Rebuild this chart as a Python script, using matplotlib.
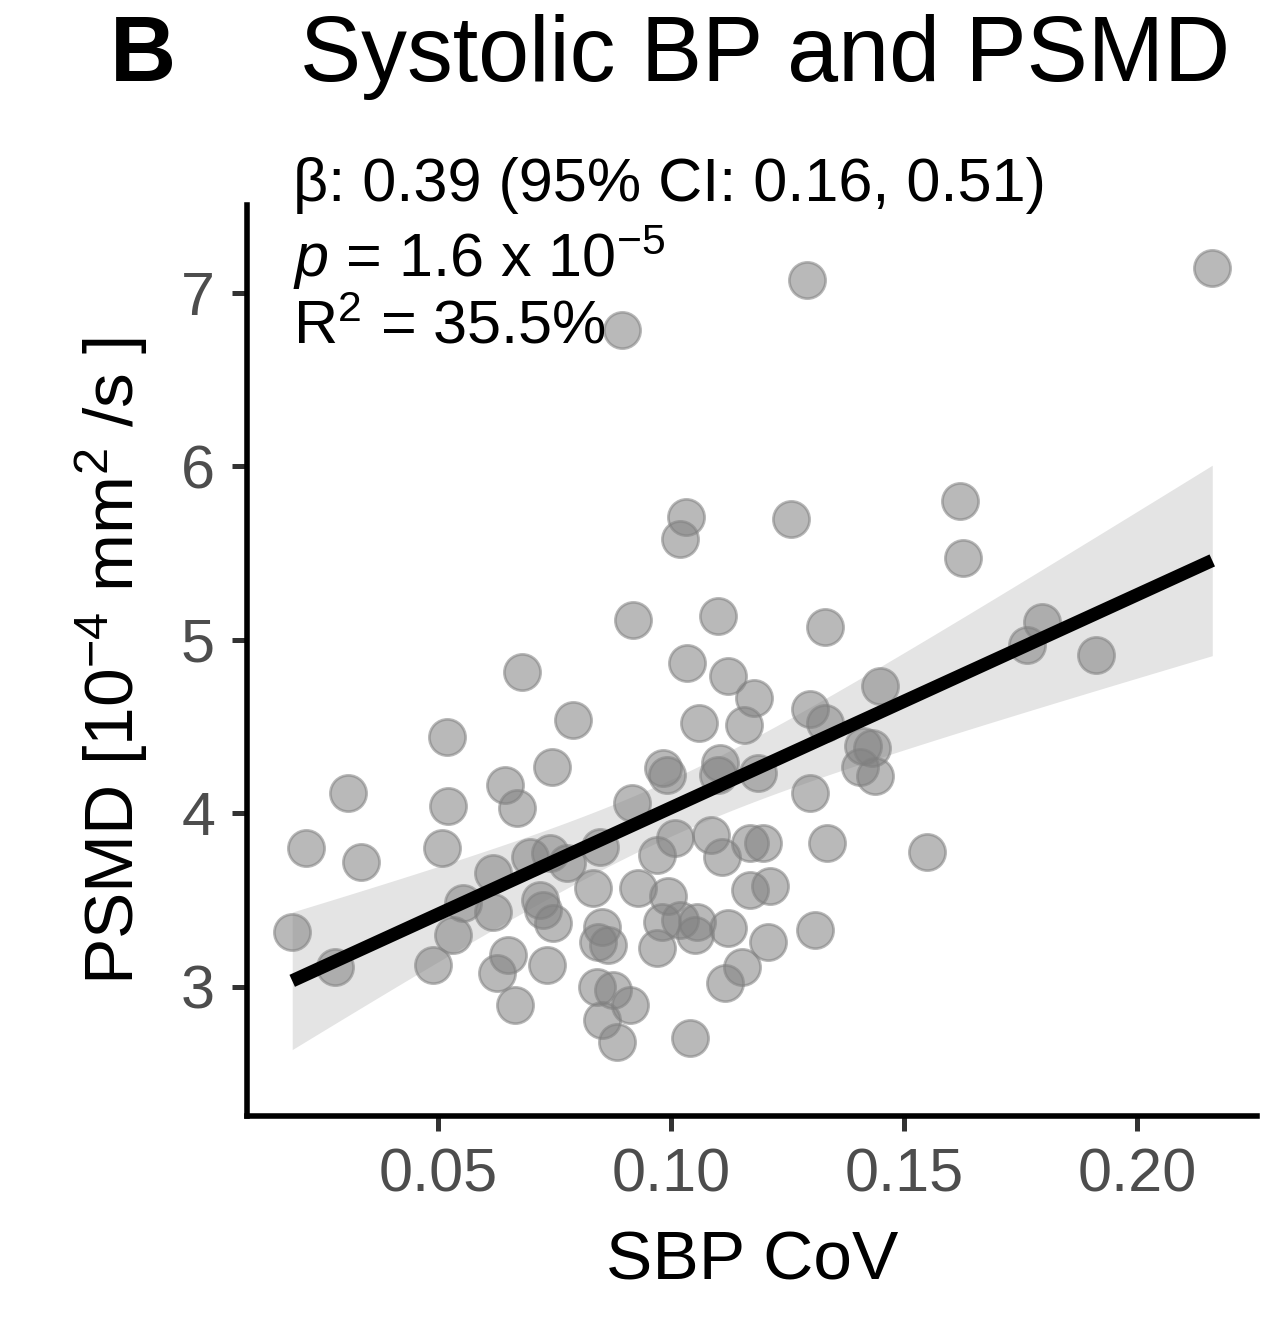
import numpy as np
import matplotlib
matplotlib.use("Agg")
import matplotlib.pyplot as plt

plt.rcParams['font.family'] = ['Liberation Sans', 'DejaVu Sans']
plt.rcParams['mathtext.fontset'] = 'custom'
plt.rcParams['mathtext.rm'] = 'Liberation Sans'
plt.rcParams['mathtext.it'] = 'Liberation Sans:italic'
plt.rcParams['mathtext.bf'] = 'Liberation Sans:bold'

# ---- data ----
sbp_cov = [0.0187, 0.0217, 0.0307, 0.0335, 0.0279, 0.0519, 0.0521, 0.0509, 0.0489, 0.0532,
           0.0554, 0.0618, 0.0618, 0.0627, 0.0644, 0.0670, 0.0650, 0.0665, 0.0680, 0.0745,
           0.0790, 0.0697, 0.0740, 0.0777, 0.0719, 0.0725, 0.0747, 0.0734, 0.0848, 0.0833,
           0.0852, 0.0843, 0.0865, 0.0841, 0.0876, 0.0912, 0.0852, 0.0884, 0.0916, 0.0918,
           0.0895, 0.0929, 0.0970, 0.0983, 0.0991, 0.0981, 0.0970, 0.1009, 0.1032, 0.1019,
           0.1034, 0.1060, 0.1019, 0.1056, 0.1052, 0.0994, 0.1041, 0.1086, 0.1109, 0.1101,
           0.1122, 0.1157, 0.1178, 0.1105, 0.1101, 0.1122, 0.1152, 0.1116, 0.1170, 0.1197,
           0.1170, 0.1212, 0.1208, 0.1187, 0.1258, 0.1292, 0.1298, 0.1330, 0.1298, 0.1330,
           0.1335, 0.1309, 0.1412, 0.1431, 0.1406, 0.1438, 0.1448, 0.1549, 0.1620, 0.1627,
           0.1764, 0.1796, 0.1912, 0.2161]
psmd = [3.317, 3.801, 4.118, 3.720, 3.115, 4.441, 4.043, 3.801, 3.127, 3.300,
        3.484, 3.657, 3.432, 3.081, 4.164, 4.032, 3.184, 2.896, 4.816, 4.268,
        4.539, 3.749, 3.772, 3.715, 3.501, 3.444, 3.369, 3.127, 3.807, 3.571,
        3.346, 3.259, 3.242, 3.000, 2.983, 2.896, 2.810, 2.683, 4.061, 5.115,
        6.787, 3.571, 3.761, 4.262, 4.222, 3.375, 3.225, 3.859, 5.709, 5.582,
        4.867, 4.522, 3.386, 3.375, 3.300, 3.524, 2.706, 3.876, 3.749, 5.138,
        4.793, 4.510, 4.666, 4.291, 4.222, 3.340, 3.115, 3.023, 3.830, 3.830,
        3.559, 3.582, 3.259, 4.233, 5.697, 7.075, 4.602, 4.522, 4.118, 5.075,
        3.830, 3.329, 4.389, 4.378, 4.268, 4.216, 4.735, 3.778, 5.801, 5.473,
        4.971, 5.104, 4.914, 7.144]

x_ticks = [0.05, 0.10, 0.15, 0.20]
x_tick_labels = ['0.05', '0.10', '0.15', '0.20']
y_ticks = [3, 4, 5, 6, 7]
y_tick_labels = ['3', '4', '5', '6', '7']

panel_letter = 'B'
title = 'Systolic BP and PSMD'
stats_lines = ['β: 0.39 (95% CI: 0.16, 0.51)',
               r'$\mathit{p}$ = 1.6 x 10$^{\mathregular{-5}}$',
               r'R$^{2}$ = 35.5%']

x = np.array(sbp_cov)
y = np.array(psmd)

# ---- linear fit with 95% CI ----
n = len(x)
slope, intercept = np.polyfit(x, y, 1)
xs = np.linspace(x.min(), x.max(), 200)
ys = intercept + slope * xs
resid = y - (intercept + slope * x)
s = np.sqrt(np.sum(resid ** 2) / (n - 2))
sxx = np.sum((x - x.mean()) ** 2)
tval = 1.986
se = s * np.sqrt(1.0 / n + (xs - x.mean()) ** 2 / sxx)

W, H = 1280, 1321
fig = plt.figure(figsize=(W / 100, H / 100), dpi=100)
ax = fig.add_axes([247 / W, 1 - 1116 / H, (1257 - 247) / W, (1116 - 205) / H])

ax.fill_between(xs, ys - tval * se, ys + tval * se, color='#e4e4e4', lw=0, zorder=1)
ax.scatter(x, y, s=680, facecolor='#808080', edgecolor='#808080', linewidths=2.0,
           alpha=0.55, zorder=2)
ax.plot(xs, ys, color='black', lw=9.5, solid_capstyle='butt', zorder=3)

ax.set_xlim(0.0090, 0.2257)
ax.set_ylim(2.2565, 7.507)
ax.set_xticks(x_ticks)
ax.set_xticklabels(x_tick_labels)
ax.set_yticks(y_ticks)
ax.set_yticklabels(y_tick_labels)

for sp in ['top', 'right']:
    ax.spines[sp].set_visible(False)
for sp in ['left', 'bottom']:
    ax.spines[sp].set_linewidth(4.0)
    ax.spines[sp].set_color('black')
ax.tick_params(axis='both', direction='out', length=11, width=3.6, color='#333333',
               labelcolor='#4d4d4d', labelsize=44)
ax.tick_params(axis='x', pad=12)
ax.tick_params(axis='y', pad=12)

ax.set_xlabel('SBP CoV', fontsize=50, labelpad=18)
ax.set_ylabel(r'PSMD [$10^{-4}$ mm$^2$ /s ]', fontsize=50, labelpad=22)

fig.text(110 / W, 1 - 57 / H, panel_letter, fontsize=66, fontweight='bold',
         ha='left', va='center')
fig.text(300 / W, 1 - 57 / H, title, fontsize=66, ha='left', va='center')

line_y = [185, 258, 328]
for txt, py in zip(stats_lines, line_y):
    fig.text(293 / W, 1 - py / H, txt, fontsize=44, ha='left', va='center')

fig.savefig('out.png', dpi=100)
